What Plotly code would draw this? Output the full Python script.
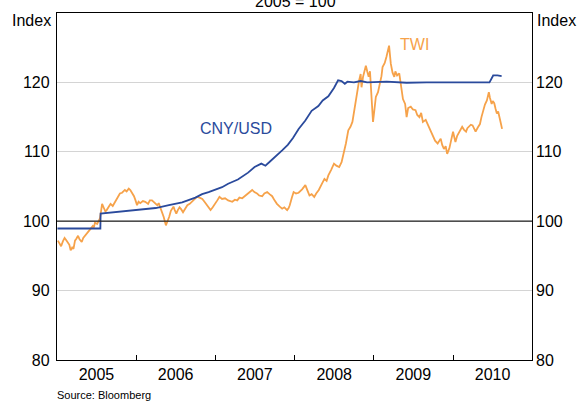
import plotly.graph_objects as go

# ---- Data (index, 2005 = 100) ----
# TWI: (date, value)
twi_points = [
    ("2005-01-05", 97.2), ("2005-01-12", 96.8), ("2005-01-20", 96.4), ("2005-01-28", 97.1),
    ("2005-02-05", 97.6), ("2005-02-12", 97.3), ("2005-02-20", 97.0), ("2005-02-27", 96.6),
    ("2005-03-05", 95.8), ("2005-03-12", 96.2), ("2005-03-18", 96.0), ("2005-03-25", 97.2),
    ("2005-04-01", 97.5), ("2005-04-08", 97.9), ("2005-04-15", 97.4), ("2005-04-25", 97.0),
    ("2005-05-02", 97.6), ("2005-05-10", 97.9), ("2005-05-20", 98.3), ("2005-06-01", 98.7),
    ("2005-06-08", 98.9), ("2005-06-15", 99.3), ("2005-06-20", 99.1), ("2005-06-25", 99.8),
    ("2005-07-05", 99.6), ("2005-07-12", 100.1), ("2005-07-18", 100.4), ("2005-07-22", 101.2),
    ("2005-07-28", 102.5), ("2005-08-05", 101.9), ("2005-08-12", 101.4), ("2005-08-18", 101.6),
    ("2005-08-25", 102.0), ("2005-09-05", 102.5), ("2005-09-15", 102.2), ("2005-09-25", 102.7),
    ("2005-10-05", 103.3), ("2005-10-18", 104.0), ("2005-10-28", 104.1), ("2005-11-10", 104.5),
    ("2005-11-18", 104.3), ("2005-11-28", 104.7), ("2005-12-05", 104.5), ("2005-12-12", 104.2),
    ("2005-12-22", 103.6), ("2005-12-29", 103.0), ("2006-01-05", 102.3), ("2006-01-12", 102.8),
    ("2006-01-20", 102.6), ("2006-02-01", 102.9), ("2006-02-12", 102.8), ("2006-02-25", 102.5),
    ("2006-03-05", 103.0), ("2006-03-15", 103.0), ("2006-03-25", 102.7), ("2006-04-08", 102.3),
    ("2006-04-15", 102.6), ("2006-04-25", 101.8), ("2006-05-01", 101.2), ("2006-05-08", 100.6),
    ("2006-05-18", 99.4), ("2006-05-25", 99.9), ("2006-06-02", 100.6), ("2006-06-10", 101.5),
    ("2006-06-22", 102.1), ("2006-06-28", 101.6), ("2006-07-05", 101.1), ("2006-07-12", 101.6),
    ("2006-07-20", 102.0), ("2006-07-28", 101.7), ("2006-08-05", 101.3), ("2006-08-15", 101.8),
    ("2006-08-25", 102.3), ("2006-09-05", 102.5), ("2006-09-15", 102.8), ("2006-09-25", 103.1),
    ("2006-10-08", 103.5), ("2006-10-20", 103.4), ("2006-11-02", 103.2), ("2006-11-12", 102.8),
    ("2006-11-25", 102.3), ("2006-12-03", 101.9), ("2006-12-10", 101.6), ("2006-12-20", 102.0),
    ("2007-01-01", 102.5), ("2007-01-10", 103.0), ("2007-01-20", 103.5), ("2007-02-01", 103.2),
    ("2007-02-15", 103.3), ("2007-03-01", 103.0), ("2007-03-20", 102.8), ("2007-04-01", 103.1),
    ("2007-04-12", 103.0), ("2007-04-22", 103.4), ("2007-05-05", 103.3), ("2007-05-22", 103.7),
    ("2007-06-05", 104.1), ("2007-06-20", 104.5), ("2007-06-30", 104.2), ("2007-07-12", 104.0),
    ("2007-07-22", 103.7), ("2007-08-05", 103.6), ("2007-08-15", 104.0), ("2007-08-28", 104.2),
    ("2007-09-08", 103.9), ("2007-09-20", 103.6), ("2007-10-01", 103.0), ("2007-10-12", 102.5),
    ("2007-10-25", 102.1), ("2007-11-05", 101.8), ("2007-11-15", 102.0), ("2007-11-28", 101.6),
    ("2007-12-05", 101.9), ("2007-12-10", 102.3), ("2007-12-20", 103.4), ("2007-12-28", 104.2),
    ("2008-01-08", 104.0), ("2008-01-20", 104.1), ("2008-02-05", 104.6), ("2008-02-20", 105.2),
    ("2008-03-01", 104.4), ("2008-03-10", 103.7), ("2008-03-20", 103.9), ("2008-04-01", 103.5),
    ("2008-04-10", 104.0), ("2008-04-22", 104.5), ("2008-05-05", 105.3), ("2008-05-18", 106.1),
    ("2008-05-28", 105.8), ("2008-06-05", 106.6), ("2008-06-18", 107.4), ("2008-07-01", 108.3),
    ("2008-07-12", 108.0), ("2008-07-25", 107.8), ("2008-08-05", 108.5), ("2008-08-15", 109.8),
    ("2008-08-25", 111.2), ("2008-09-05", 113.1), ("2008-09-15", 113.6), ("2008-09-24", 114.3),
    ("2008-10-02", 116.0), ("2008-10-08", 117.4), ("2008-10-16", 119.0), ("2008-10-25", 120.3),
    ("2008-11-01", 121.2), ("2008-11-05", 119.3), ("2008-11-12", 120.8), ("2008-11-25", 122.4),
    ("2008-12-02", 121.5), ("2008-12-08", 120.8), ("2008-12-14", 121.6), ("2008-12-18", 119.5),
    ("2008-12-24", 116.8), ("2008-12-28", 114.3), ("2009-01-04", 116.2), ("2009-01-10", 117.9),
    ("2009-01-20", 118.6), ("2009-01-30", 119.8), ("2009-02-05", 120.9), ("2009-02-10", 122.2),
    ("2009-02-20", 122.8), ("2009-02-28", 123.7), ("2009-03-06", 124.6), ("2009-03-12", 125.3),
    ("2009-03-16", 124.0), ("2009-03-20", 122.7), ("2009-03-28", 121.4), ("2009-04-05", 120.8),
    ("2009-04-10", 121.6), ("2009-04-18", 121.0), ("2009-04-28", 121.3), ("2009-05-03", 120.2),
    ("2009-05-08", 118.8), ("2009-05-15", 117.6), ("2009-05-25", 116.9), ("2009-06-01", 115.0),
    ("2009-06-08", 116.3), ("2009-06-20", 116.5), ("2009-06-30", 116.1), ("2009-07-12", 116.0),
    ("2009-07-20", 115.3), ("2009-07-30", 115.0), ("2009-08-07", 115.6), ("2009-08-15", 114.3),
    ("2009-08-28", 114.6), ("2009-09-05", 114.0), ("2009-09-12", 113.6), ("2009-09-22", 112.8),
    ("2009-10-01", 112.2), ("2009-10-10", 111.6), ("2009-10-22", 111.2), ("2009-10-30", 111.7),
    ("2009-11-05", 111.9), ("2009-11-12", 111.0), ("2009-11-20", 110.4), ("2009-11-28", 110.8),
    ("2009-12-05", 109.7), ("2009-12-15", 110.5), ("2009-12-24", 111.8), ("2010-01-01", 112.9),
    ("2010-01-06", 112.2), ("2010-01-12", 111.4), ("2010-01-20", 112.3), ("2010-01-30", 112.9),
    ("2010-02-05", 113.3), ("2010-02-12", 113.6), ("2010-02-20", 113.2), ("2010-03-02", 112.9),
    ("2010-03-08", 113.4), ("2010-03-15", 113.6), ("2010-03-24", 113.9), ("2010-04-01", 113.8),
    ("2010-04-08", 113.2), ("2010-04-15", 112.9), ("2010-04-25", 113.5), ("2010-05-05", 114.0),
    ("2010-05-12", 115.0), ("2010-05-20", 116.0), ("2010-05-28", 116.8), ("2010-06-06", 117.4),
    ("2010-06-15", 118.6), ("2010-06-20", 117.8), ("2010-06-28", 116.9), ("2010-07-03", 117.3),
    ("2010-07-10", 117.0), ("2010-07-16", 116.2), ("2010-07-22", 115.5), ("2010-07-28", 115.8),
    ("2010-08-01", 115.0), ("2010-08-08", 114.3), ("2010-08-15", 113.3),
]

# CNY/USD: (date, value)
cny_points = [
    ("2005-01-03", 98.95), ("2005-07-20", 98.95), ("2005-07-21", 101.1), ("2005-10-01", 101.3),
    ("2006-01-01", 101.6), ("2006-04-01", 101.9), ("2006-06-01", 102.3), ("2006-08-01", 102.7),
    ("2006-10-01", 103.4), ("2006-11-01", 103.9), ("2006-12-01", 104.2), ("2007-01-01", 104.5),
    ("2007-02-01", 104.9), ("2007-03-01", 105.4), ("2007-04-15", 106.0), ("2007-06-01", 107.0),
    ("2007-07-01", 107.8), ("2007-08-01", 108.3), ("2007-08-20", 108.0), ("2007-09-10", 108.6),
    ("2007-10-10", 109.4), ("2007-11-05", 110.2), ("2007-12-01", 111.0), ("2007-12-25", 112.0),
    ("2008-01-20", 113.3), ("2008-02-20", 114.5), ("2008-03-20", 115.9), ("2008-04-20", 116.6),
    ("2008-05-10", 117.4), ("2008-06-05", 118.0), ("2008-07-01", 119.2), ("2008-07-20", 120.3),
    ("2008-08-05", 120.2), ("2008-08-20", 119.8), ("2008-09-01", 120.1), ("2008-10-01", 120.0),
    ("2008-11-01", 120.2), ("2008-12-01", 120.0), ("2009-03-01", 120.1), ("2009-06-01", 119.95),
    ("2009-09-01", 120.0), ("2009-12-01", 120.05), ("2010-03-01", 120.0), ("2010-06-18", 120.0),
    ("2010-06-25", 120.5), ("2010-07-05", 121.0), ("2010-07-25", 121.0), ("2010-08-13", 120.9),
]

twi_dates = [d for d, _ in twi_points]
twi_values = [v for _, v in twi_points]
cny_dates = [d for d, _ in cny_points]
cny_values = [v for _, v in cny_points]

year_labels = ["2005", "2006", "2007", "2008", "2009", "2010"]
label_dates = [y + "-07-02" for y in year_labels]
boundary_dates = [y + "-01-01" for y in year_labels[1:]]
y_ticks = [80, 90, 100, 110, 120, 130]
y_tick_text = ["80", "90", "100", "110", "120", ""]

BLUE = "#2A4A9C"
ORANGE = "#F6A24A"
FONT = "Liberation Sans, Arial, sans-serif"

fig = go.Figure()
fig.add_trace(go.Scatter(x=twi_dates, y=twi_values, mode="lines",
                         line=dict(color=ORANGE, width=1.8), xaxis="x", yaxis="y",
                         name="TWI", showlegend=False))
fig.add_trace(go.Scatter(x=cny_dates, y=cny_values, mode="lines",
                         line=dict(color=BLUE, width=1.8), xaxis="x2", yaxis="y2",
                         name="CNY/USD", showlegend=False))

W, H = 580, 403
L, R, T, B = 57, 48, 13, 43
pw, ph = W - L - R, H - T - B

def px(xp):
    return (xp - L) / pw

def py(yp):
    return 1 - (yp - T) / ph

x_range = ["2005-01-01", "2010-12-31"]
fig.update_layout(
    width=W, height=H,
    margin=dict(l=L, r=R, t=T, b=B, autoexpand=False),
    paper_bgcolor="white", plot_bgcolor="white",
    font=dict(family=FONT, size=16, color="black"),
    xaxis=dict(range=x_range, type="date", tickvals=label_dates, ticktext=year_labels,
               ticks="", showgrid=False, showline=True, mirror=True,
               linecolor="black", linewidth=1.2, zeroline=False,
               tickfont=dict(size=16), automargin=False),
    xaxis2=dict(range=x_range, type="date", overlaying="x", matches="x",
                tickvals=boundary_dates, ticks="inside", ticklen=5, tickcolor="black",
                tickwidth=1, showticklabels=False, showgrid=False, showline=False,
                side="bottom", anchor="y2", automargin=False),
    yaxis=dict(range=[80, 130], tickvals=y_ticks, ticktext=y_tick_text, ticks="",
               showgrid=True, gridcolor="#D4D4D4", gridwidth=1,
               showline=True, mirror=True, linecolor="black", linewidth=1.2,
               zeroline=False, tickfont=dict(size=16), ticklabelstandoff=3,
               automargin=False),
    yaxis2=dict(range=[80, 130], matches="y", overlaying="y", side="right",
                tickvals=y_ticks, ticktext=y_tick_text, ticks="", showgrid=False,
                showline=False, zeroline=False, tickfont=dict(size=16),
                ticklabelstandoff=3, anchor="x2", automargin=False),
)

# Reference line at 100
fig.add_hline(y=100, line=dict(color="#222222", width=1.3), layer="above")

fig.add_annotation(text="2005 = 100", x=px(295), y=py(1), xref="paper", yref="paper",
                   xanchor="center", yanchor="middle", showarrow=False, font=dict(size=16))
fig.add_annotation(text="Index", x=px(53), y=py(21), xref="paper", yref="paper",
                   xanchor="right", yanchor="middle", showarrow=False, font=dict(size=16))
fig.add_annotation(text="Index", x=px(535), y=py(21), xref="paper", yref="paper",
                   xanchor="left", yanchor="middle", showarrow=False, font=dict(size=16))
fig.add_annotation(text="CNY/USD", x=px(236), y=py(128), xref="paper", yref="paper",
                   xanchor="center", yanchor="middle", showarrow=False,
                   font=dict(size=16, color=BLUE))
fig.add_annotation(text="TWI", x=px(414), y=py(45), xref="paper", yref="paper",
                   xanchor="center", yanchor="middle", showarrow=False,
                   font=dict(size=16, color=ORANGE))
fig.add_annotation(text="Source: Bloomberg", x=px(55), y=py(395), xref="paper", yref="paper",
                   xanchor="left", yanchor="middle", showarrow=False,
                   font=dict(size=11))

fig.write_html("out.html",
               config={"displayModeBar": False, "staticPlot": True},
               post_script="document.body.style.margin='0';document.body.style.overflow='hidden';")
